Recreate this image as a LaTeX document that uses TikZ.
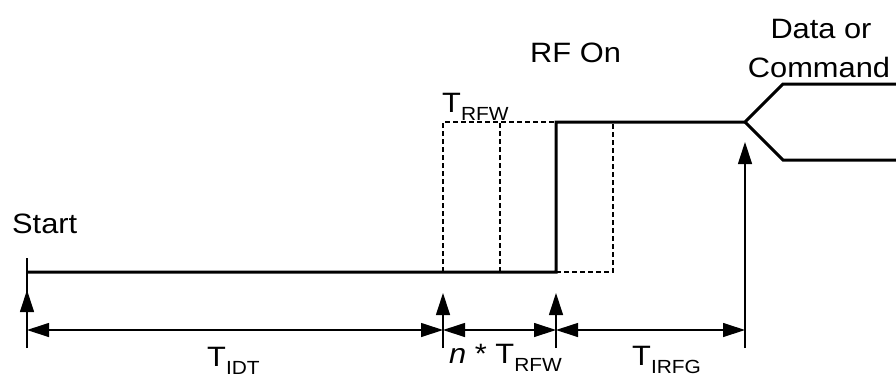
\documentclass[tikz,border=0pt]{standalone}
\usepackage{fontspec}
\setmainfont{Liberation Sans}[FakeStretch=1.1]
\usetikzlibrary{arrows.meta}
\newcommand{\subtx}[1]{\raisebox{-8pt}{\fontsize{19}{19}\selectfont #1}}
\begin{document}
\begin{tikzpicture}[x=1pt,y=-1pt,
  lbl/.style={inner sep=0pt,font=\fontsize{28}{32}\selectfont},
  sig/.style={line width=3pt},
  dsh/.style={line width=1.2pt,dash pattern=on 5pt off 3pt},
  thin/.style={line width=1.2pt},
  tip/.style={-{Triangle[length=22pt,width=14pt]}},
  dim/.style={line width=1.2pt,{Triangle[length=22pt,width=14pt]}-{Triangle[length=22pt,width=14pt]}}]
\useasboundingbox (0,0) rectangle (896,373);
% signal coordinates
\coordinate (s0) at (27,272);
\coordinate (r0) at (556,272);
\coordinate (r1) at (556,122);
\coordinate (k) at (745,122);
\coordinate (u1) at (783,84);
\coordinate (u2) at (896,84);
\coordinate (l1) at (783,160);
\coordinate (l2) at (896,160);
% dashed windows
\coordinate (d1b) at (443,272);
\coordinate (d1t) at (443,122);
\coordinate (d2b) at (500,272);
\coordinate (d2t) at (500,122);
\coordinate (d3b) at (613,272);
\coordinate (d3t) at (613,122);
\draw[dsh] (d1b) -- (d1t) -- (r1);
\draw[dsh] (d2b) -- (d2t);
\draw[dsh] (r0) -- (d3b) -- (d3t);
\draw[sig] (s0) -- (r0) -- (r1) -- (k) -- (u1) -- (u2);
\draw[sig] (k) -- (l1) -- (l2);
% ticks
\coordinate (t0a) at (27,258);
\coordinate (t0b) at (27,348);
\coordinate (t0c) at (27,290);
\coordinate (t1a) at (443,293);
\coordinate (t1b) at (443,348);
\coordinate (t2a) at (556,293);
\coordinate (t2b) at (556,348);
\coordinate (t3a) at (745,142);
\coordinate (t3b) at (745,348);
\draw[thin] (t0a) -- (t0b);
\draw[thin,tip] (t0b) -- (t0c);
\draw[thin,tip] (t1b) -- (t1a);
\draw[thin,tip] (t2b) -- (t2a);
\draw[thin,tip] (t3b) -- (t3a);
% dimension line
\coordinate (m0) at (27,330);
\coordinate (m1) at (443,330);
\coordinate (m2) at (556,330);
\coordinate (m3) at (745,330);
\draw[dim] (m0) -- (m1);
\draw[dim] (m1) -- (m2);
\draw[dim] (m2) -- (m3);
% labels
\node[lbl,anchor=base west] (start) at (12,233) {Start};
\node[lbl,anchor=base west] (rfon) at (530,62) {RF On};
\node[lbl,anchor=base] (data) at (821,38) {Data or};
\node[lbl,anchor=base] (cmd) at (819,77) {Command};
\node[lbl,anchor=base west] (trfw) at (442,112) {T\subtx{RFW}};
\node[lbl,anchor=base west] (tidt) at (207,366) {T\subtx{IDT}};
\node[lbl,anchor=base west] (ntrfw) at (449,363) {\textit{n} * T\subtx{RFW}};
\node[lbl,anchor=base west] (tirfg) at (632,365) {T\subtx{IRFG}};
\end{tikzpicture}
\end{document}
